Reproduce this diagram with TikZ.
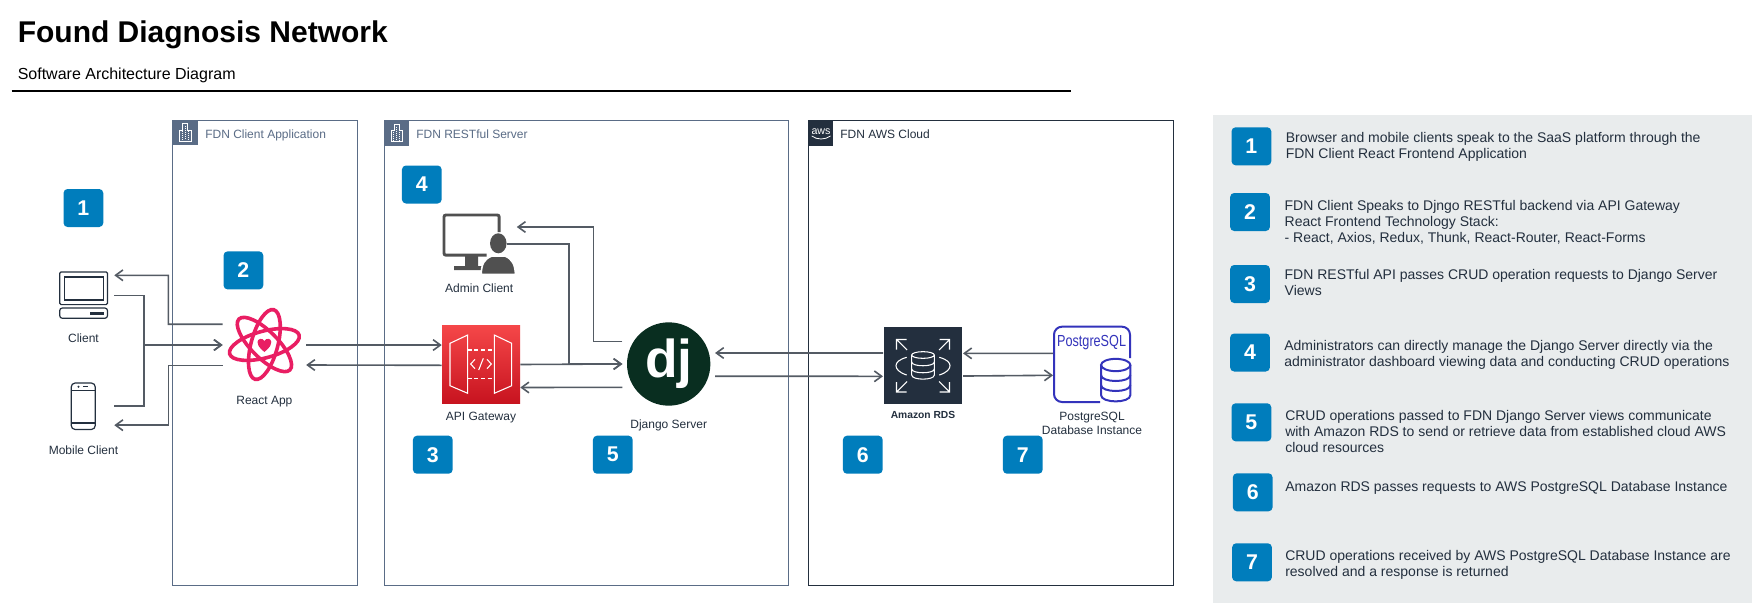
\documentclass[tikz,border=0pt]{standalone}
\usepackage{fontspec}
\usepackage{graphicx}
\setmainfont{Liberation Sans}
\usetikzlibrary{arrows.meta}
\definecolor{InkDark}{HTML}{232F3E}
\definecolor{SlateBlue}{HTML}{5A6C86}
\definecolor{ArrowGrey}{HTML}{545B64}
\definecolor{BadgeBlue}{HTML}{007DBC}
\definecolor{PanelGrey}{HTML}{E9ECED}
\definecolor{ReactPink}{HTML}{E91E63}
\definecolor{DjangoGreen}{HTML}{092E20}
\definecolor{AdminGrey}{HTML}{505050}
\definecolor{PostgresBlue}{HTML}{3333BB}
\definecolor{GatewayTop}{HTML}{F54749}
\definecolor{GatewayBottom}{HTML}{C7131F}
\tikzset{
	badge/.style = {rectangle, rounded corners = 3pt, fill = BadgeBlue, text = white, minimum width = 29.8pt, minimum height = 28.5pt, inner sep = 0pt, font = \fontsize{16}{18}\selectfont\bfseries},
	arrowline/.style = {draw = ArrowGrey, line width = 1.2pt, -{Straight Barb[length = 5.5pt, width = 8pt, line width = 1.2pt]}},
	iconbox/.style = {rectangle, inner sep = 0pt},
	iconlabel/.style = {text = InkDark, inner sep = 0pt, align = center, font = \fontsize{9}{10.5}\selectfont},
	container/.style = {rectangle, draw = #1, fill = white, line width = .75pt, inner sep = 0pt},
	cornersquare/.style = {rectangle, fill = #1, inner sep = 0pt, minimum size = 18.75pt},
	boxtitle/.style = {anchor = base west, inner sep = 0pt, font = \fontsize{9}{10.5}\selectfont},
	legendtext/.style = {anchor = base west, align = left, inner sep = 0pt, text = InkDark, font = \fontsize{10.5}{12}\selectfont},
	whiteline/.style = {draw = white, line width = .8pt},
}
% white office block on the corner square of a box
\newcommand{\officeicon}[2]{
	\begin{scope}[shift = {(#1,#2)}, draw = white, line width = .5pt]
		\draw (6.7,21) -- (6.7,9.5) -- (10,9.5) -- (10,3.3) -- (15.2,3.3) -- (15.2,9.5) -- (18.4,9.5) -- (18.4,21) -- cycle;
		\draw [densely dotted] (9.5,11) -- (9.5,20) (12.5,6) -- (12.5,20) (15.5,11) -- (15.5,20);
	\end{scope}
}
\begin{document}
\begin{tikzpicture}[x = .75pt, y = -.75pt]
	\useasboundingbox (0,0) rectangle (1763,614);

	% heading
	\node (Title) [anchor = base west, inner sep = 0pt, font = \fontsize{22.5}{26}\selectfont\bfseries] at (17.5,42) {Found Diagnosis Network};
	\node (Subtitle) [anchor = base west, inner sep = 0pt, font = \fontsize{12}{14}\selectfont] at (17.5,79.5) {Software Architecture Diagram};
	\draw [black, line width = 1.5pt] (11.5,90.5) -- (1071,90.5);

	% boxes
	\node (ClientBox) [container = SlateBlue, minimum width = 138.3pt, minimum height = 348.6pt] at (264.8,352.6) {};
	\node (ServerBox) [container = SlateBlue, minimum width = 303.3pt, minimum height = 348.6pt] at (586.5,352.6) {};
	\node (CloudBox) [container = InkDark, minimum width = 273.5pt, minimum height = 348.6pt] at (990.7,352.6) {};
	\node (ClientCorner) [cornersquare = SlateBlue] at (185.1,132.9) {};
	\node (ServerCorner) [cornersquare = SlateBlue] at (396.8,133.2) {};
	\node (CloudCorner) [cornersquare = InkDark] at (820.8,133.2) {};
	\officeicon{172.6}{120.4}
	\officeicon{384.3}{120.7}
	\node (AwsMark) [anchor = base, inner sep = 0pt, text = white, font = \fontsize{8}{9}\selectfont] at (821,134) {aws};
	\draw [white, line width = .6pt] (811.7,136) .. controls (817,140) and (825,140) .. (830.5,136);
	\node (ClientTitle) [boxtitle, text = SlateBlue] at (205,138) {FDN Client Application};
	\node (ServerTitle) [boxtitle, text = SlateBlue] at (416,138) {FDN RESTful Server};
	\node (CloudTitle) [boxtitle, text = InkDark] at (840,138) {FDN AWS Cloud};

	% legend panel
	\node (Panel) [rectangle, fill = PanelGrey, inner sep = 0pt, minimum width = 404pt, minimum height = 366pt] at (1482.6,359) {};

	% icons, left to right
	\node (Client) [iconbox, minimum width = 45.75pt, minimum height = 36pt] at (83.5,295.5) {};
	\draw [InkDark, line width = .9pt, rounded corners = 1pt] (59.7,272) rectangle (107.5,304.6);
	\draw [InkDark, line width = .9pt] (64.3,277) rectangle (103.3,300);
	\draw [InkDark, line width = .9pt, rounded corners = 2pt] (59.7,308) rectangle (107.5,318.3);
	\fill [InkDark] (90.3,311.7) rectangle (104,314.7);
	\node (ClientLabel) [iconlabel, node distance = 35.6pt, below of = Client, anchor = base] {Client};

	\node (MobileClient) [iconbox, minimum width = 45.75pt, minimum height = 36pt] at (83.5,406) {};
	\draw [InkDark, line width = .9pt, rounded corners = 3pt] (71.2,383) rectangle (95.3,429.5);
	\draw [InkDark, line width = .9pt] (71.2,390.8) -- (95.3,390.8) (71.2,423) -- (95.3,423);
	\fill [InkDark] (78.5,386.8) circle (.8pt);
	\draw [InkDark, line width = .9pt] (83,386.8) -- (88.4,386.8);
	\node (MobileLabel) [iconlabel, node distance = 36pt, below of = MobileClient, anchor = base] {Mobile Client};

	\node (ReactApp) [iconbox, minimum width = 62.25pt, minimum height = 56pt] at (264.4,345) {};
	\draw [ReactPink, line width = 2.7pt, rotate around = {15:(264.4,344.5)}] (264.4,344.5) ellipse (27pt and 10pt);
	\draw [ReactPink, line width = 2.7pt, rotate around = {75:(264.4,344.5)}] (264.4,344.5) ellipse (27pt and 10pt);
	\draw [ReactPink, line width = 2.7pt, rotate around = {135:(264.4,344.5)}] (264.4,344.5) ellipse (27pt and 10pt);
	\fill [ReactPink] (264.4,352) .. controls (258,346.5) and (257.5,344.5) .. (257.5,342) .. controls (257.5,338.5) and (262.5,337.5) .. (264.4,341) .. controls (266.3,337.5) and (271.3,338.5) .. (271.3,342) .. controls (271.3,344.5) and (270.8,346.5) .. (264.4,352);
	\node (ReactLabel) [iconlabel, node distance = 44.25pt, below of = ReactApp, anchor = base] {React App};

	\node (AdminClient) [iconbox, minimum width = 56pt, minimum height = 44pt] at (479.2,244) {};
	\draw [AdminGrey, line width = 2.2pt, rounded corners = 1.5pt] (486.7,255.2) -- (444,255.2) -- (444,215) -- (499.2,215) -- (499.2,232);
	\fill [AdminGrey] (465,256) -- (478,256) -- (478,266) -- (482,266) -- (482,270) -- (454,270) -- (454,266) -- (465,266) -- cycle;
	\fill [AdminGrey, draw = white, line width = 1.2pt] (481.2,274.5) .. controls (481.5,264) and (484,259) .. (492,256) -- (505,256) .. controls (512,259) and (515,264) .. (515.5,274.5) -- cycle;
	\fill [AdminGrey] (498.3,243.3) ellipse (6.2pt and 7.5pt);
	\node (AdminLabel) [iconlabel, node distance = 36pt, below of = AdminClient, anchor = base] {Admin Client};

	\node (ApiGateway) [iconbox, top color = GatewayTop, bottom color = GatewayBottom, minimum width = 58.5pt, minimum height = 58.8pt] at (481,364.5) {};
	\draw [whiteline] (450,343.3) -- (467.7,335) -- (467.7,393.3) -- (450,385.7) -- cycle;
	\draw [whiteline] (494.3,335) -- (511.7,343.3) -- (511.7,385.7) -- (494.3,393.3) -- cycle;
	\draw [whiteline, dashed, dash pattern = on 3pt off 2pt] (467.7,350) -- (494.3,350) (467.7,378.3) -- (494.3,378.3);
	\draw [whiteline] (475,359.3) -- (470.7,364) -- (475,368.7) (487,359.3) -- (491.3,364) -- (487,368.7) (483.3,358.3) -- (478.7,370);
	\node (ApiLabel) [iconlabel, node distance = 42pt, below of = ApiGateway, anchor = base] {API Gateway};

	\node (DjangoServer) [circle, fill = DjangoGreen, text = white, inner sep = 0pt, minimum size = 62.5pt, outer sep = 3.5pt, font = \fontsize{40}{44}\selectfont\bfseries] at (668.7,364) {\raisebox{-5pt}{dj}};
	\node (DjangoLabel) [iconlabel, node distance = 48pt, below of = DjangoServer, anchor = base] {Django Server};

	\node (AmazonRds) [iconbox, fill = InkDark, minimum width = 58.5pt, minimum height = 58.2pt, outer sep = .75pt] at (923,365.5) {};
	\draw [whiteline] (906.5,339.5) -- (896.5,339.5) -- (896.5,349.5) (896.5,339.5) -- (907,350);
	\draw [whiteline] (939.5,339.5) -- (949.5,339.5) -- (949.5,349.5) (949.5,339.5) -- (939,350);
	\draw [whiteline] (896.5,382) -- (896.5,392) -- (906.5,392) (896.5,392) -- (907,381.5);
	\draw [whiteline] (949.5,382) -- (949.5,392) -- (939.5,392) (949.5,392) -- (939,381.5);
	\draw [whiteline] (906.7,357.3) .. controls (899,359.5) and (896,362.5) .. (896,365.7) .. controls (896,369) and (899,372.5) .. (906.7,375);
	\draw [whiteline] (939.3,357.3) .. controls (947,359.5) and (950,362.5) .. (950,365.7) .. controls (950,369) and (947,372.5) .. (939.3,375);
	\draw [whiteline] (923,355) ellipse (8.5pt and 2.5pt);
	\draw [whiteline] (911.7,355) -- (911.7,375) .. controls (911.7,380.5) and (934.3,380.5) .. (934.3,375) -- (934.3,355);
	\draw [whiteline] (911.7,362) .. controls (911.7,367) and (934.3,367) .. (934.3,362);
	\draw [whiteline] (911.7,369) .. controls (911.7,374) and (934.3,374) .. (934.3,369);
	\node (RdsLabel) [iconlabel, node distance = 39.9pt, below of = AmazonRds, anchor = base, font = \fontsize{7.7}{9}\selectfont\bfseries] {Amazon RDS};

	\node (PostgresDb) [iconbox, minimum width = 58pt, minimum height = 57.5pt] at (1092,364.5) {};
	\draw [PostgresBlue, line width = 1.5pt, rounded corners = 6pt] (1130,358) -- (1130,326.7) -- (1054,326.7) -- (1054,402) -- (1100,402);
	\node (PostgresLogo) [anchor = base, inner sep = 0pt, text = PostgresBlue, font = \fontsize{12}{14}\selectfont] at (1091.6,346.7) {\scalebox{.79}[1]{PostgreSQL}};
	\draw [PostgresBlue, line width = 1.5pt] (1115.7,365) ellipse (11pt and 4.6pt);
	\draw [PostgresBlue, line width = 1.5pt] (1101,365) -- (1101,395) .. controls (1101,403.5) and (1130.4,403.5) .. (1130.4,395) -- (1130.4,365);
	\draw [PostgresBlue, line width = 1.5pt] (1101,375) .. controls (1101,383) and (1130.4,383) .. (1130.4,375);
	\draw [PostgresBlue, line width = 1.5pt] (1101,385) .. controls (1101,393) and (1130.4,393) .. (1130.4,385);
	\node (PostgresLabel) [iconlabel, node distance = 52.65pt, below of = PostgresDb, anchor = base] {PostgreSQL\\Database Instance};

	% connectors
	\coordinate (ClientBend) at (168.4,275.3);
	\coordinate (MobileBend) at (168.4,425.2);
	\coordinate (ClientBus) at (143.9,345);
	\coordinate (DjangoBus) at (569,364);
	\coordinate (AdminBend) at (593.3,227);
	\draw [arrowline] ([yshift = 15.6pt]ReactApp.west) -| (ClientBend) -- ([yshift = 15.15pt]Client.east);
	\draw [arrowline] (Client.east) -| (ClientBus) -- (ReactApp.west);
	\draw [arrowline] (MobileClient.east) -| (ClientBus) -- (ReactApp.west);
	\draw [arrowline] ([yshift = -15.5pt]ReactApp.west) -| (MobileBend) -- ([yshift = -14.4pt]MobileClient.east);
	\draw [arrowline] (ReactApp.east) -- ([yshift = 14.6pt]ApiGateway.west);
	\draw [arrowline] ([yshift = -.6pt]ApiGateway.west) -- ([yshift = -15pt]ReactApp.east);
	\draw [arrowline] (ApiGateway.east) -- (DjangoServer.west);
	\draw [arrowline] ([xshift = -7.2pt]AdminClient.east) -| (DjangoBus) -- (DjangoServer.west);
	\draw [arrowline] ([yshift = 17pt]DjangoServer.west) -| (AdminBend) -- ([yshift = 12.75pt]AdminClient.east);
	\draw [arrowline] ([yshift = -17.5pt]DjangoServer.west) -- ([yshift = -17.25pt]ApiGateway.east);
	\draw [arrowline] ([yshift = 9.4pt]AmazonRds.west) -- ([yshift = 8.25pt]DjangoServer.east);
	\draw [arrowline] ([yshift = -9.2pt]DjangoServer.east) -- ([yshift = -8.1pt]AmazonRds.west);
	\draw [arrowline] ([yshift = 8.4pt]PostgresDb.west) -- ([yshift = 9.1pt]AmazonRds.east);
	\draw [arrowline] ([yshift = -7.9pt]AmazonRds.east) -- ([yshift = -8.1pt]PostgresDb.west);

	% number badges on the diagram
	\node (Badge1) [badge] at (83.4,208) {1};
	\node (Badge2) [badge] at (243.4,270.4) {2};
	\node (Badge3) [badge] at (432.8,454.7) {3};
	\node (Badge4) [badge] at (421.8,184.5) {4};
	\node (Badge5) [badge] at (612.8,454.7) {5};
	\node (Badge6) [badge] at (862.8,454.7) {6};
	\node (Badge7) [badge] at (1022.8,454.7) {7};

	% number badges and texts of the legend
	\node (Legend1) [badge] at (1251.4,146.3) {1};
	\node (Legend2) [badge] at (1250,212) {2};
	\node (Legend3) [badge] at (1250,284) {3};
	\node (Legend4) [badge] at (1250,352.5) {4};
	\node (Legend5) [badge] at (1251.4,422.3) {5};
	\node (Legend6) [badge] at (1252.7,492.3) {6};
	\node (Legend7) [badge] at (1252,562.3) {7};
	\node (LegendText1) [legendtext] at (1285.5,158.7) {Browser and mobile clients speak to the SaaS platform through the\\FDN Client React Frontend Application};
	\node (LegendText2) [legendtext] at (1284.4,242) {FDN Client Speaks to Djngo RESTful backend via API Gateway\\React Frontend Technology Stack:\\- React, Axios, Redux, Thunk, React-Router, React-Forms};
	\node (LegendText3) [legendtext] at (1284.4,295) {FDN RESTful API passes CRUD operation requests to Django Server\\Views};
	\node (LegendText4) [legendtext] at (1284,366) {Administrators can directly manage the Django Server directly via the\\administrator dashboard viewing data and conducting CRUD operations};
	\node (LegendText5) [legendtext] at (1285,452) {CRUD operations passed to FDN Django Server views communicate\\with Amazon RDS to send or retrieve data from established cloud AWS\\cloud resources};
	\node (LegendText6) [legendtext] at (1285,491) {Amazon RDS passes requests to AWS PostgreSQL Database Instance};
	\node (LegendText7) [legendtext] at (1285,576) {CRUD operations received by AWS PostgreSQL Database Instance are\\resolved and a response is returned};
\end{tikzpicture}
\end{document}
